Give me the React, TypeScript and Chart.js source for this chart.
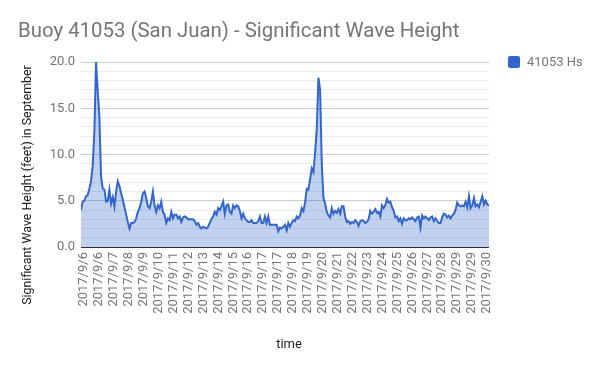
import React, { useEffect, useRef } from "react";
import { Chart, registerables } from "chart.js";

Chart.register(...registerables);

const TITLE = "Buoy 41053 (San Juan) - Significant Wave Height";
const SERIES_NAME = "41053 Hs";
const Y_TITLE = "Significant Wave Height (feet) in September";
const X_TITLE = "time";

// Date labels shown along the time axis
const tickLabels = [
  "2017/9/6", "2017/9/6", "2017/9/7", "2017/9/8", "2017/9/9", "2017/9/10",
  "2017/9/11", "2017/9/12", "2017/9/13", "2017/9/14", "2017/9/15", "2017/9/16",
  "2017/9/17", "2017/9/17", "2017/9/18", "2017/9/19", "2017/9/20", "2017/9/21",
  "2017/9/22", "2017/9/23", "2017/9/24", "2017/9/25", "2017/9/26", "2017/9/27",
  "2017/9/28", "2017/9/29", "2017/9/29", "2017/9/30",
];

// Significant wave height (feet), in time order
const waveHeightSep6to12 = [
  4.0, 4.9, 5.0, 5.5, 5.6, 6.3, 7.1, 8.8, 12.5, 20.0, 16.8, 14.0, 7.6, 6.3, 6.2,
  4.9, 5.0, 6.2, 4.7, 5.4, 4.4, 6.0, 7.1, 6.6, 5.8, 5.1, 4.3, 3.5, 2.7, 2.0, 2.6,
  2.6, 2.7, 3.1, 3.8, 4.2, 4.9, 5.8, 6.0, 5.3, 4.4, 4.2, 4.9, 6.0, 4.5, 3.8, 4.5,
  4.2, 4.9, 3.8, 3.5, 2.6, 3.1, 2.9, 3.8, 3.1, 3.5, 3.5, 3.1, 3.3, 2.7,
];
const waveHeightSep12to18 = [
  3.2, 3.3, 3.2, 3.0, 3.0, 3.0, 3.0, 2.8, 2.4, 2.6, 2.2, 2.0, 2.2, 2.1, 2.0, 2.2,
  2.6, 3.0, 3.3, 3.8, 3.5, 4.2, 4.0, 4.4, 4.9, 3.6, 4.5, 4.6, 3.8, 3.6, 4.5, 4.2,
  4.5, 4.4, 3.9, 3.1, 3.6, 3.1, 2.9, 2.7, 2.7, 2.9, 2.6, 2.6, 2.6, 2.8, 3.3, 2.6,
  2.6, 3.3, 2.6, 3.3, 2.4, 2.4, 2.4, 2.4, 2.4, 1.7, 2.1, 2.0, 2.2,
];
const waveHeightSep18to24 = [
  2.4, 1.8, 2.6, 2.2, 2.6, 2.9, 2.8, 3.3, 3.1, 3.4, 4.2, 3.9, 4.8, 6.3, 6.2, 7.3,
  8.5, 8.1, 10.2, 12.8, 18.3, 17.0, 9.0, 5.3, 4.7, 3.8, 3.4, 3.2, 4.2, 3.6, 3.9,
  3.7, 4.1, 3.6, 4.4, 4.4, 3.3, 2.7, 2.8, 2.5, 2.7, 2.6, 2.9, 2.7, 2.3, 2.8, 2.9,
  2.8, 2.6, 2.7, 3.0, 3.9, 3.6, 3.8, 4.1, 3.7, 3.8, 3.3, 4.5, 4.2, 4.5,
];
const waveHeightSep24to30 = [
  5.2, 4.8, 4.9, 4.3, 3.9, 3.2, 3.3, 2.8, 3.1, 2.5, 3.1, 2.9, 2.9, 3.1, 3.0, 3.2,
  3.0, 2.8, 3.2, 3.3, 2.1, 3.4, 3.1, 3.3, 3.1, 2.9, 3.2, 3.3, 2.8, 3.1, 2.8, 2.6,
  2.6, 3.2, 3.6, 3.5, 3.2, 3.4, 3.1, 3.4, 3.6, 4.0, 4.8, 4.5, 4.4, 4.5, 4.4, 4.9,
  4.3, 5.5, 4.2, 4.5, 5.3, 4.4, 4.6, 4.3, 4.9, 5.5, 4.6, 5.0, 4.6, 4.5,
];

const Y_MIN = 0;
const Y_MAX = 20;

const waveHeight = [
  ...waveHeightSep6to12,
  ...waveHeightSep12to18,
  ...waveHeightSep18to24,
  ...waveHeightSep24to30,
];

const LINE_COLOR = "#3366cc";
const FILL_COLOR = "rgba(51,102,204,0.3)";
const TEXT_GRAY = "#757575";
const FONT = "Roboto";

export default function App() {
  const canvasRef = useRef<HTMLCanvasElement | null>(null);

  useEffect(() => {
    document.body.style.margin = "0";
    const canvas = canvasRef.current;
    if (!canvas) return;

    const lastIndex = waveHeight.length - 1;
    const tickFirst = 1.8;
    const tickLast = lastIndex - 1.2;
    const tickStep = (tickLast - tickFirst) / (tickLabels.length - 1);

    const decorations = {
      id: "decorations",
      afterDatasetsDraw(chart: any) {
        const { ctx, chartArea, scales } = chart;
        const y0 = scales.y.getPixelForValue(0);
        ctx.save();
        ctx.strokeStyle = "#333333";
        ctx.lineWidth = 1;
        ctx.beginPath();
        ctx.moveTo(chartArea.left, y0 + 0.5);
        ctx.lineTo(chartArea.right, y0 + 0.5);
        ctx.stroke();
        ctx.restore();
      },
      afterDraw(chart: any) {
        const { ctx } = chart;
        ctx.save();
        // Title
        ctx.font = `20.4px ${FONT}`;
        ctx.fillStyle = TEXT_GRAY;
        ctx.textAlign = "left";
        ctx.textBaseline = "alphabetic";
        ctx.fillText(TITLE, 18, 37);

        // Legend
        ctx.fillStyle = LINE_COLOR;
        ctx.beginPath();
        if ((ctx as any).roundRect) {
          (ctx as any).roundRect(508, 56, 12, 12, 2);
        } else {
          ctx.rect(508, 56, 12, 12);
        }
        ctx.fill();
        ctx.font = `13px ${FONT}`;
        ctx.fillStyle = TEXT_GRAY;
        ctx.textBaseline = "middle";
        ctx.fillText(SERIES_NAME, 527, 62.5);

        // Axis titles
        ctx.fillStyle = "#222222";
        ctx.font = `13px ${FONT}`;
        ctx.textAlign = "center";
        ctx.textBaseline = "middle";
        ctx.fillText(X_TITLE, 289, 345);
        ctx.font = `12.4px ${FONT}`;
        ctx.translate(28, 185);
        ctx.rotate(-Math.PI / 2);
        ctx.fillText(Y_TITLE, 0, 0);
        ctx.restore();
      },
    };

    const chart = new Chart(canvas, {
      type: "line",
      data: {
        datasets: [
          {
            label: SERIES_NAME,
            data: waveHeight.map((v, i) => ({ x: i, y: v })),
            borderColor: LINE_COLOR,
            backgroundColor: FILL_COLOR,
            borderWidth: 2,
            pointRadius: 0,
            tension: 0,
            fill: "origin",
          },
        ],
      },
      options: {
        responsive: false,
        animation: false,
        devicePixelRatio: 1,
        layout: { padding: { left: 0, top: 62, right: 111, bottom: 0 } },
        plugins: {
          legend: { display: false },
          title: { display: false },
          tooltip: { enabled: false },
        },
        scales: {
          x: {
            type: "linear",
            min: 0,
            max: lastIndex,
            grid: { display: false, drawTicks: false },
            border: { display: false },
            afterBuildTicks: (scale: any) => {
              scale.ticks = tickLabels.map((_, k) => ({ value: tickFirst + k * tickStep }));
            },
            afterFit: (scale: any) => {
              scale.height = 124;
            },
            ticks: {
              autoSkip: false,
              maxRotation: 90,
              minRotation: 90,
              padding: 5,
              color: TEXT_GRAY,
              font: { family: FONT, size: 13 },
              callback: (_v: any, index: number) => tickLabels[index],
            },
          },
          y: {
            type: "linear",
            min: Y_MIN,
            max: Y_MAX,
            grid: {
              drawTicks: false,
              color: (c: any) =>
                c.tick.value === 0
                  ? "rgba(0,0,0,0)"
                  : c.tick.value % 5 === 0
                  ? "#cccccc"
                  : "#ebebeb",
              lineWidth: 1,
            },
            border: { display: false },
            afterFit: (scale: any) => {
              scale.width = 81;
            },
            ticks: {
              stepSize: 1,
              maxTicksLimit: 21,
              autoSkip: false,
              padding: 6,
              color: TEXT_GRAY,
              font: { family: FONT, size: 13 },
              callback: (v: any) => (Number(v) % 5 === 0 ? Number(v).toFixed(1) : ""),
            },
          },
        },
      },
      plugins: [decorations],
    });

    return () => {
      chart.destroy();
    };
  }, []);

  return (
    <div style={{ width: 600, height: 371, position: "relative", background: "#fff" }}>
      <canvas ref={canvasRef} width={600} height={371} />
    </div>
  );
}
